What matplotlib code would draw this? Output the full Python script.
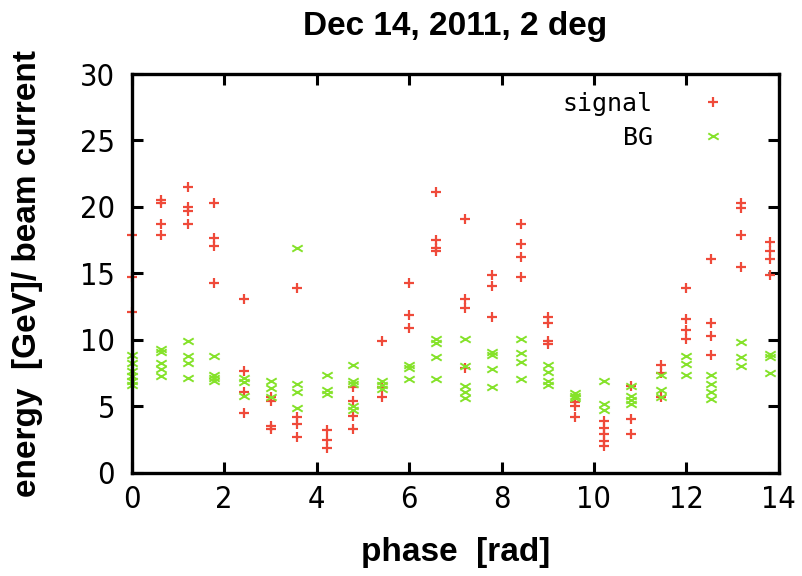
import numpy as np
import matplotlib
matplotlib.use('Agg')
import matplotlib.pyplot as plt
from matplotlib.path import Path
from matplotlib import font_manager
from matplotlib.font_manager import FontProperties

# phase of each measurement column [rad]
phase = [0.0, 0.63, 1.21, 1.79, 2.43, 3.01, 3.57, 4.22, 4.79, 5.42, 6.0, 6.58,
         7.21, 7.8, 8.43, 9.01, 9.59, 10.22, 10.79, 11.44, 12.0, 12.54, 13.19, 13.8]

# energy / beam current, one list per phase column
signal = [
    [17.9, 14.7, 12.1],
    [20.5, 20.3, 18.7, 17.9],
    [21.5, 20.0, 19.7, 18.7],
    [20.3, 17.7, 17.1, 14.3],
    [13.1, 7.7, 6.05, 4.5],
    [5.7, 5.4, 3.5, 3.3],
    [13.9, 4.2, 3.7, 2.7],
    [3.25, 2.5, 1.85],
    [6.45, 5.4, 4.3, 3.3],
    [9.9, 6.45, 5.7],
    [14.3, 11.9, 10.9],
    [21.1, 17.5, 16.9, 16.7],
    [19.1, 13.05, 12.4, 7.9],
    [14.9, 14.05, 11.7],
    [18.7, 17.25, 16.25, 14.7],
    [11.7, 11.25, 9.9, 9.7],
    [5.3, 5.0, 4.2],
    [3.9, 3.4, 2.9, 2.4, 2.0],
    [6.5, 4.05, 2.9],
    [8.1, 7.5, 5.7],
    [13.9, 11.55, 10.75, 10.1],
    [16.05, 11.25, 10.3, 8.9],
    [20.3, 19.9, 17.9, 15.5],
    [17.4, 16.7, 16.1, 14.9],
]

bg = [
    [8.9, 8.3, 7.7, 7.3, 6.9, 6.6],
    [9.3, 9.1, 8.3, 7.8, 7.3],
    [9.9, 8.8, 8.3, 7.1],
    [8.8, 7.4, 7.1, 6.9],
    [7.1, 6.8, 5.8],
    [6.9, 6.4, 5.7],
    [16.9, 6.7, 6.1, 4.9],
    [7.35, 6.2, 5.95],
    [8.1, 6.9, 6.7, 5.0, 4.7],
    [6.9, 6.6, 6.3],
    [8.1, 7.9, 7.05],
    [10.1, 9.8, 8.7, 7.05],
    [10.1, 8.05, 6.55, 6.1, 5.6],
    [9.1, 8.85, 7.85, 6.45],
    [10.1, 9.0, 8.35, 7.05],
    [8.1, 7.6, 6.9, 6.6],
    [6.0, 5.8, 5.6],
    [6.9, 5.2, 4.7],
    [6.55, 5.8, 5.5, 5.2],
    [7.4, 6.2, 5.7],
    [8.8, 8.2, 7.4],
    [7.4, 6.7, 6.05, 5.55],
    [9.85, 8.7, 8.05],
    [8.95, 8.7, 7.5],
]


def flatten(cols):
    x = np.repeat(phase, [len(c) for c in cols])
    y = np.concatenate([np.array(c) for c in cols])
    return x, y


def narrow_font(size):
    # look for a condensed face for the thin gnuplot-ish tick labels
    files = [f.fname for f in font_manager.fontManager.ttflist]
    for want in ('LiberationSansNarrow-Regular', 'DejaVuSansCondensed.ttf',
                 'Condensed-Regular', 'Condensed-Light'):
        for fn in files:
            if want in fn:
                return FontProperties(fname=fn, size=size)
    return FontProperties(family='Liberation Sans', size=size - 3)


avail = {f.name for f in font_manager.fontManager.ttflist}
bold = 'Liberation Sans' if 'Liberation Sans' in avail else 'DejaVu Sans'
tickfont = narrow_font(22)

# flattened x used for the green BG points
flat_x = Path([(-1, -0.6), (1, 0.6), (-1, 0.6), (1, -0.6)],
              [Path.MOVETO, Path.LINETO, Path.MOVETO, Path.LINETO])

fig = plt.figure(figsize=(8.03, 5.76), dpi=100)
ax = fig.add_axes([0.164, 0.179, 0.806, 0.6925])

sx, sy = flatten(signal)
bx, by = flatten(bg)
ax.plot(sx, sy, ls='none', marker='+', ms=7, mew=1.6, color='#ef4a3a',
        clip_on=False, label='signal')
ax.plot(bx, by, ls='none', marker=flat_x, ms=7.5, mew=1.4, color='#85e22a',
        clip_on=False, label='BG')

ax.set_xlim(0, 14)
ax.set_ylim(0, 30)
ax.set_xticks(range(0, 15, 2))
ax.set_yticks(range(0, 31, 5))

for s in ax.spines.values():
    s.set_linewidth(2.4)
ax.tick_params(direction='in', length=8, width=2.2, top=True, right=True)
ax.tick_params(axis='x', pad=9)
ax.tick_params(axis='y', pad=12)
for lab in ax.get_xticklabels() + ax.get_yticklabels():
    lab.set_fontproperties(tickfont)

ax.set_title('Dec 14, 2011, 2 deg', fontsize=24, fontweight='bold',
             fontfamily=bold, pad=28)
ax.set_xlabel('phase  [rad]', fontsize=24, fontweight='bold', fontfamily=bold)
ax.set_ylabel('energy  [GeV]/ beam current', fontsize=24, fontweight='bold',
              fontfamily=bold)
ax.xaxis.set_label_coords(0.5, -0.16)
ax.yaxis.set_label_coords(-0.137, 0.5)

leg = ax.legend(loc='upper right', bbox_to_anchor=(0.917, 0.955), frameon=False,
                markerfirst=False, numpoints=1, handlelength=1.0,
                handletextpad=1.9, borderpad=0, borderaxespad=0,
                labelspacing=0.4, prop={'family': 'DejaVu Sans Mono', 'size': 18})

fig.savefig('out.png', dpi=100)
